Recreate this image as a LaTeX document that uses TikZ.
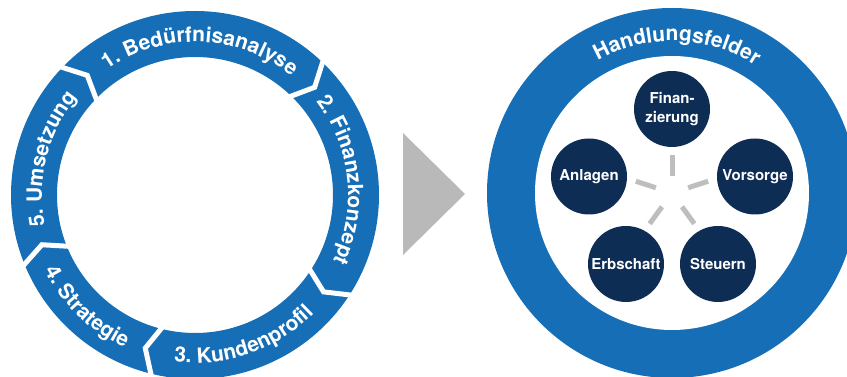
\documentclass[tikz,border=0pt]{standalone}
\usepackage{fontspec}
\setmainfont{TeX Gyre Heros}
\usetikzlibrary{decorations.text}
\definecolor{ringblue}{RGB}{22,110,183}
\definecolor{navy}{RGB}{14,45,85}
\definecolor{arrowgray}{RGB}{184,185,184}
\definecolor{spokegray}{RGB}{190,190,190}

\begin{document}
\begin{tikzpicture}[x=1pt, y=1pt,
  field/.style = {circle, fill=navy, text=white, minimum size=76pt, inner sep=0pt, align=center, font=\fontsize{15}{18.5}\selectfont\bfseries},
  gap/.style = {draw=white, line width=5pt, line join=miter},
  spoke/.style = {draw=spokegray, line width=5pt},
  ringtext/.style = {decorate, decoration={text along path, text align=center, text color=white, text={|\fontsize{21}{25}\selectfont\bfseries|#1}}}]
\useasboundingbox (0,0) rectangle (847,377);
\coordinate (lc) at (195,182);
\coordinate (rc) at (672,184);

\fill[ringblue, even odd rule] (lc) circle[radius=184] (lc) circle[radius=138];
\foreach \b in {137,47,-32,-103,-157}
  \draw[gap] ([shift={(\b:190)}]lc) -- ([shift={(\b-5:161)}]lc) -- ([shift={(\b:132)}]lc);
\path[ringtext={1. Bedürfnisanalyse}] ([shift={(148:153)}]lc) arc[start angle=148, end angle=28, radius=153];
\path[ringtext={2. Finanzkonzept}] ([shift={(66:153)}]lc) arc[start angle=66, end angle=-54, radius=153];
\path[ringtext={3. Kundenprofil}] ([shift={(-131:168)}]lc) arc[start angle=-131, end angle=-11, radius=168];
\path[ringtext={4. Strategie}] ([shift={(166:168)}]lc) arc[start angle=166, end angle=286, radius=168];
\path[ringtext={5. Umsetzung}] ([shift={(226:153)}]lc) arc[start angle=226, end angle=106, radius=153];

\fill[arrowgray] (403,244) -- (465,183) -- (403,122) -- cycle;

\fill[ringblue] (rc) circle[radius=185];
\fill[white] (rc) circle[radius=137];
\path[ringtext={Handlungsfelder}] ([shift={(148:152)}]rc) arc[start angle=148, end angle=28, radius=152];
\foreach \a in {18,90,162,234,306}
  \draw[spoke] ([shift={(\a:17)}]rc) -- ([shift={(\a:38)}]rc);
\node[field] (finanzierung) at (672,268) {Finan-\\zierung};
\node[field] (anlagen) at (589,200.5) {Anlagen};
\node[field] (vorsorge) at (755,200.5) {Vorsorge};
\node[field] (erbschaft) at (626,113) {Erbschaft};
\node[field] (steuern) at (718,113) {Steuern};
\end{tikzpicture}
\end{document}
